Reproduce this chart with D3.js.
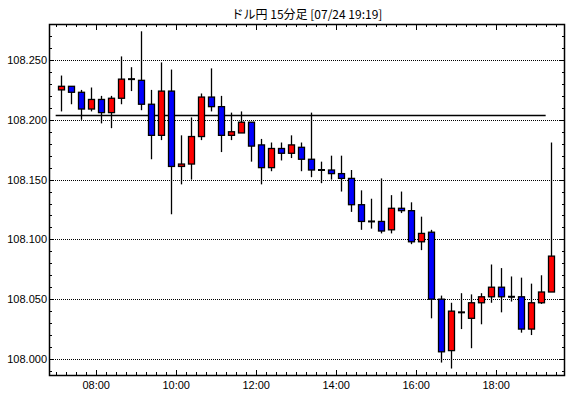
<!DOCTYPE html>
<html>
<head>
<meta charset="utf-8">
<script src="https://cdn.jsdelivr.net/npm/d3@7"></script>
<style>
  body { margin: 0; background: #fff; }
  text { font-family: "Liberation Sans", Arial, sans-serif; }
</style>
</head>
<body>
<div id="chart"></div>
<script>
// 15-minute bars, 2019-07-24
const times = ["07:00","07:15","07:30","07:45","08:00","08:15","08:30","08:45","09:00","09:15",
  "09:30","09:45","10:00","10:15","10:30","10:45","11:00","11:15","11:30","11:45",
  "12:00","12:15","12:30","12:45","13:00","13:15","13:30","13:45","14:00","14:15",
  "14:30","14:45","15:00","15:15","15:30","15:45","16:00","16:15","16:30","16:45",
  "17:00","17:15","17:30","17:45","18:00","18:15","18:30","18:45","19:00","19:15"];
const open = [108.225,108.228,108.223,108.209,108.217,108.206,108.218,108.234,108.233,108.213,
  108.187,108.224,108.161,108.163,108.186,108.219,108.211,108.187,108.189,108.198,
  108.179,108.160,108.176,108.172,108.177,108.167,108.158,108.158,108.155,108.151,
  108.129,108.115,108.115,108.108,108.126,108.124,108.098,108.106,108.050,108.007,
  108.039,108.034,108.047,108.052,108.060,108.052,108.052,108.025,108.047,108.056];
const high = [108.237,108.228,108.225,108.227,108.220,108.220,108.253,108.244,108.274,108.225,
  108.248,108.242,108.187,108.202,108.222,108.243,108.220,108.206,108.207,108.198,
  108.184,108.181,108.181,108.187,108.181,108.206,108.165,108.170,108.170,108.158,
  108.141,108.134,108.151,108.137,108.140,108.131,108.119,108.108,108.053,108.047,
  108.055,108.054,108.055,108.079,108.076,108.069,108.068,108.063,108.070,108.181];
const low = [108.207,108.213,108.200,108.207,108.197,108.193,108.213,108.224,108.208,108.167,
  108.183,108.121,108.146,108.150,108.183,108.207,108.173,108.183,108.189,108.165,
  108.146,108.157,108.166,108.168,108.157,108.152,108.147,108.150,108.140,108.123,
  108.108,108.109,108.105,108.105,108.122,108.096,108.091,108.034,107.997,107.992,
  108.025,108.009,108.029,108.047,108.039,108.048,108.022,108.020,108.046,108.056];
const close = [108.228,108.223,108.209,108.217,108.206,108.218,108.234,108.234,108.213,108.187,
  108.224,108.161,108.163,108.186,108.219,108.211,108.187,108.190,108.198,108.178,
  108.160,108.176,108.172,108.179,108.167,108.158,108.158,108.155,108.151,108.129,
  108.115,108.115,108.107,108.126,108.124,108.098,108.105,108.050,108.006,108.040,
  108.039,108.047,108.052,108.060,108.052,108.052,108.025,108.047,108.056,108.086];
const refLevel = 108.204;   // flat reference line
const title = "ドル円 15分足 [07/24 19:19]";

const width = 570, height = 398;
const margin = { top: 24, right: 5, bottom: 23, left: 49 };
const day = "2019-07-24T";
const parseTime = d3.timeParse("%Y-%m-%dT%H:%M");

const data = times.map((t, i) => ({
  t: parseTime(day + t),
  o: open[i], h: high[i], l: low[i], c: close[i]
}));

const svg = d3.select("#chart").append("svg")
    .attr("width", width)
    .attr("height", height);

// x: 15 min = 10px, candle drawn in the middle of its slot
const x = d3.scaleTime()
    .domain([parseTime(day + "06:50"), parseTime(day + "19:44")])
    .range([margin.left, width - margin.right]);
const y = d3.scaleLinear()
    .domain([107.9866, 108.2801])
    .range([height - margin.bottom, margin.top]);

const slot = 15 * 60 * 1000;
const cx = d => Math.round(x(new Date(+d.t + slot / 2))) + 0.5;

// dotted grid
svg.append("g")
  .selectAll("line")
  .data(d3.range(108.00, 108.26, 0.05))
  .join("line")
    .attr("x1", margin.left)
    .attr("x2", width - margin.right)
    .attr("y1", d => Math.round(y(d)) + 0.5)
    .attr("y2", d => Math.round(y(d)) + 0.5)
    .attr("stroke", "#000")
    .attr("stroke-dasharray", "1,1");

// reference line
svg.append("line")
    .attr("x1", x(data[0].t))
    .attr("x2", x(data[data.length - 1].t))
    .attr("y1", Math.round(y(refLevel)) + 0.5)
    .attr("y2", Math.round(y(refLevel)) + 0.5)
    .attr("stroke", "#000")
    .attr("stroke-width", 1.5);

// axes: ticks point inward
const yMajor = d3.range(108.00, 108.26, 0.05);
const yMinor = d3.range(107.99, 108.285, 0.01);

const gLeft = svg.append("g").attr("transform", `translate(${margin.left},0)`);
gLeft.call(d3.axisLeft(y).tickValues(yMinor).tickSize(-3).tickFormat(""));
const gLeftMaj = svg.append("g").attr("transform", `translate(${margin.left},0)`);
gLeftMaj.call(d3.axisLeft(y).tickValues(yMajor).tickSize(-5).tickPadding(2).tickFormat(d3.format(".3f")));

const gRight = svg.append("g").attr("transform", `translate(${width - margin.right},0)`);
gRight.call(d3.axisRight(y).tickValues(yMinor).tickSize(-3).tickFormat(""));
const gRightMaj = svg.append("g").attr("transform", `translate(${width - margin.right},0)`);
gRightMaj.call(d3.axisRight(y).tickValues(yMajor).tickSize(-6).tickFormat(""));

const xMinor = d3.timeMinute.every(15);
const xMajor = d3.timeHour.every(2);

const gBottom = svg.append("g").attr("transform", `translate(0,${height - margin.bottom})`);
gBottom.call(d3.axisBottom(x).ticks(xMinor).tickSize(-3).tickFormat(""));
const gBottomMaj = svg.append("g").attr("transform", `translate(0,${height - margin.bottom})`);
gBottomMaj.call(d3.axisBottom(x).ticks(xMajor).tickSize(-5).tickPadding(6).tickFormat(d3.timeFormat("%H:%M")));

const gTop = svg.append("g").attr("transform", `translate(0,${margin.top})`);
gTop.call(d3.axisTop(x).ticks(xMinor).tickSize(-3).tickFormat(""));
const gTopMaj = svg.append("g").attr("transform", `translate(0,${margin.top})`);
gTopMaj.call(d3.axisTop(x).ticks(xMajor).tickSize(-6).tickFormat(""));

svg.selectAll(".domain").remove();
svg.selectAll(".tick line").attr("stroke", "#000").attr("shape-rendering", "crispEdges");
svg.selectAll(".tick text")
    .attr("fill", "#000")
    .style("font-size", "11px")
    .style("font-family", "'Liberation Sans', Arial, sans-serif");

// frame
svg.append("rect")
    .attr("x", margin.left + 0.5)
    .attr("y", margin.top + 0.5)
    .attr("width", width - margin.left - margin.right - 1)
    .attr("height", height - margin.top - margin.bottom)
    .attr("fill", "none")
    .attr("stroke", "#000")
    .attr("stroke-width", 1.5);

// candles
const bodyW = 6;
const candles = svg.append("g").selectAll("g")
  .data(data)
  .join("g");

candles.append("line")
    .attr("x1", cx).attr("x2", cx)
    .attr("y1", d => y(d.h))
    .attr("y2", d => y(d.l))
    .attr("stroke", "#000")
    .attr("stroke-width", 1.3);

candles.filter(d => d.o !== d.c).append("rect")
    .attr("x", d => cx(d) - bodyW / 2)
    .attr("y", d => y(Math.max(d.o, d.c)))
    .attr("width", bodyW)
    .attr("height", d => Math.max(1, Math.abs(y(d.o) - y(d.c))))
    .attr("fill", d => d.c > d.o ? "#ff0000" : "#0000ff")
    .attr("stroke", "#000")
    .attr("stroke-width", 1.3);

candles.filter(d => d.o === d.c).append("line")
    .attr("x1", d => cx(d) - bodyW / 2 - 0.5)
    .attr("x2", d => cx(d) + bodyW / 2 + 0.5)
    .attr("y1", d => y(d.c))
    .attr("y2", d => y(d.c))
    .attr("stroke", "#000")
    .attr("stroke-width", 2);

// title
svg.append("text")
    .attr("x", (margin.left + width - margin.right) / 2)
    .attr("y", 19)
    .attr("text-anchor", "middle")
    .style("font-family", "'Noto Sans CJK JP', sans-serif")
    .style("font-size", "12px")
    .text(title);
</script>
</body>
</html>
